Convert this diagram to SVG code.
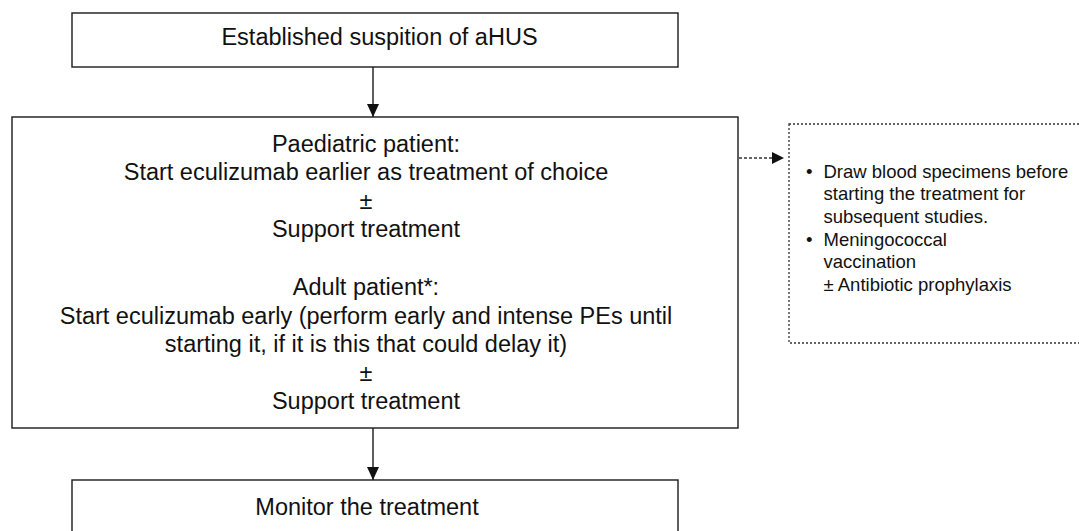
<svg xmlns="http://www.w3.org/2000/svg" width="1079" height="531" viewBox="0 0 1079 531">
<style>
.box{fill:#fff;stroke:#1a1a1a;stroke-width:1.4}
.dot{fill:#fff;stroke:#333;stroke-width:1.3;stroke-dasharray:2 2}
.t{font-family:"Liberation Sans",Arial,sans-serif;font-size:23.5px;fill:#111;text-anchor:middle}
.s{font-family:"Liberation Sans",Arial,sans-serif;font-size:18.5px;fill:#111}
.ln{stroke:#1a1a1a;stroke-width:1.4;fill:none}
.dl{stroke:#333;stroke-width:1.4;fill:none;stroke-dasharray:3 2}
</style>
<defs>
<marker id="ah" markerWidth="14" markerHeight="12" refX="13" refY="6" orient="auto" markerUnits="userSpaceOnUse">
<path d="M0,0 L13,6 L0,12 Z" fill="#111"/>
</marker>
<marker id="ah2" markerWidth="13" markerHeight="12" refX="12" refY="6" orient="auto" markerUnits="userSpaceOnUse">
<path d="M0,0 L12,6 L0,12 Z" fill="#111"/>
</marker>
</defs>
<g id="connectors">
<line class="ln" x1="373" y1="67" x2="373" y2="117" marker-end="url(#ah)"/>
<line class="ln" x1="373" y1="428" x2="373" y2="480" marker-end="url(#ah)"/>
<line class="dl" x1="739" y1="158" x2="784" y2="158" marker-end="url(#ah2)"/>
</g>
<g id="suspicion">
<rect class="box" x="72" y="13" width="606" height="54"/>
<text class="t" x="379.5" y="45">Established suspition of aHUS</text>
</g>
<g id="treatment">
<rect class="box" x="12" y="117" width="726" height="311"/>
<text class="t" x="366" y="151.5">Paediatric patient:</text>
<text class="t" x="366" y="180">Start eculizumab earlier as treatment of choice</text>
<text class="t" x="366" y="208.5">±</text>
<text class="t" x="366" y="237">Support treatment</text>
<text class="t" x="366" y="295">Adult patient*:</text>
<text class="t" x="366" y="323.5">Start eculizumab early (perform early and intense PEs until</text>
<text class="t" x="366" y="352">starting it, if it is this that could delay it)</text>
<text class="t" x="366" y="380.5">±</text>
<text class="t" x="366" y="409">Support treatment</text>
</g>
<g id="notes">
<rect class="dot" x="789" y="124" width="300" height="219"/>
<text class="s" x="806" y="177.7">•</text>
<text class="s" x="823.5" y="177.7">Draw blood specimens before</text>
<text class="s" x="823.5" y="200.3">starting the treatment for</text>
<text class="s" x="823.5" y="222.9">subsequent studies.</text>
<text class="s" x="806" y="245.5">•</text>
<text class="s" x="823.5" y="245.5">Meningococcal</text>
<text class="s" x="823.5" y="268.1">vaccination</text>
<text class="s" x="823.5" y="290.7">± Antibiotic prophylaxis</text>
</g>
<g id="monitor">
<rect class="box" x="72" y="480" width="606" height="70"/>
<text class="t" x="367" y="515">Monitor the treatment</text>
</g>
</svg>
